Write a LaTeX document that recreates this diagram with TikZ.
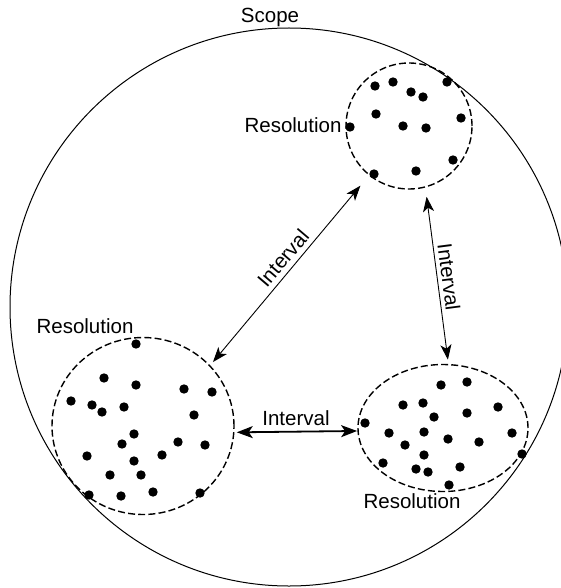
\documentclass[tikz,border=0pt]{standalone}
\usepackage{fontspec}
\setmainfont{Liberation Sans}
\usetikzlibrary{shapes.geometric,arrows.meta}
\begin{document}
\begin{tikzpicture}[x=1pt,y=-1pt,
  lbl/.style={font=\fontsize{20.5}{24}\selectfont, inner sep=0pt},
  region/.style={draw, dashed, dash pattern=on 7pt off 3.2pt, line width=1.4pt, inner sep=0pt, outer sep=0pt},
  link/.style={line width=0.9pt, {Stealth[length=15pt,width=11pt,inset=4pt]}-{Stealth[length=15pt,width=11pt,inset=4pt]}},
  thicklink/.style={line width=1.8pt, {Stealth[length=16pt,width=12pt,inset=4pt]}-{Stealth[length=16pt,width=12pt,inset=4pt]}},
  dot/.style={fill=black}
]
\useasboundingbox (0,0) rectangle (560,588);

% scope boundary
\node[circle, draw, line width=1pt, minimum size=558pt, inner sep=0pt] (S) at (289,307) {};
\node[lbl, anchor=base] (scopelbl) at (270,23) {Scope};

% three resolution regions
\node[region, circle, minimum size=126pt] (T) at (409,126) {};
\node[region, ellipse, minimum width=182pt, minimum height=177pt] (L) at (143,426) {};
\node[region, ellipse, minimum width=170pt, minimum height=127pt] (R) at (443,428) {};

% samples inside each region
\foreach \x/\y in {375/86,393/82,411/92,423/97,447/82,376/114,350/127,403/126,426/128,
                   461/118,453/160,416/171,374/174}
  \fill[dot] (\x,\y) circle (4.7pt);
\foreach \x/\y in {136/344,104/378,136/385,184/389,212/392,71/401,92/405,102/412,124/407,
                   194/415,134/434,122/444,178/442,205/445,87/456,134/461,162/455,
                   110/475,141/475,89/495,121/496,153/492,200/493}
  \fill[dot] (\x,\y) circle (4.7pt);
\foreach \x/\y in {441/385,467/382,403/405,423/403,434/417,467/413,498/407,365/423,
                   389/433,424/432,448/439,479/442,512/433,405/445,424/455,522/454,
                   383/463,416/469,428/472,460/467,449/485}
  \fill[dot] (\x,\y) circle (4.7pt);

\node[lbl, anchor=base] (resT) at (293,133) {Resolution};
\node[lbl, anchor=base] (resL) at (85,333) {Resolution};
\node[lbl, anchor=base] (resR) at (412,508) {Resolution};

% intervals between regions
\draw[link, shorten <=5pt, shorten >=14pt] (L.42.9) -- (T.231.2);
\draw[link, shorten <=10pt, shorten >=5pt] (T.-75.8) -- (R.85.8);
\draw[thicklink, shorten <=3pt, shorten >=1pt] (L.-4.3) -- (R.182.7);

\node[lbl, rotate=49.6] (intD) at (283,258) {Interval};
\node[lbl, rotate=-82.6] (intV) at (449,277) {Interval};
\node[lbl, anchor=base] (intH) at (296,425) {Interval};
\end{tikzpicture}
\end{document}
